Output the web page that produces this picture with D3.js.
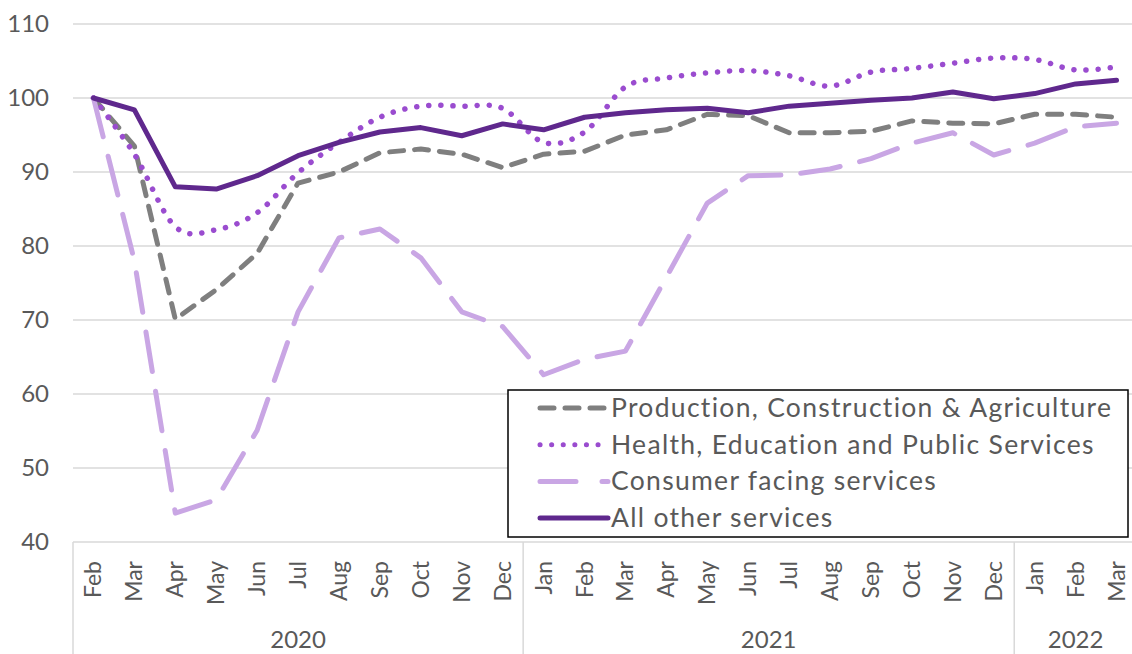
<!DOCTYPE html>
<html>
<head>
<meta charset="utf-8">
<script src="https://cdn.jsdelivr.net/npm/d3@7"></script>
<style>
  body { margin: 0; background: #fff; }
  text { font-family: Lato, "Open Sans", sans-serif; fill: #595959; }
</style>
</head>
<body>
<div class="chart"></div>
<script>
var svgWidth = 1132;
var svgHeight = 654;

var margin = { top: 24, right: -5, bottom: 112, left: 73 };

var width = svgWidth - margin.left - margin.right;
var height = svgHeight - margin.top - margin.bottom;

// month labels, Feb 2020 .. Mar 2022
var months = ["Feb", "Mar", "Apr", "May", "Jun", "Jul", "Aug", "Sep", "Oct", "Nov", "Dec",
  "Jan", "Feb", "Mar", "Apr", "May", "Jun", "Jul", "Aug", "Sep", "Oct", "Nov", "Dec",
  "Jan", "Feb", "Mar"];
var yearLabels = ["2020", "2021", "2022"];
var yearCounts = [11, 12, 3];
var yTicks = [40, 50, 60, 70, 80, 90, 100, 110];

var seriesNames = ["Production, Construction & Agriculture", "Health, Education and Public Services",
  "Consumer facing services", "All other services"];

var production = [100, 93.5, 70.1, 74.1, 79.0, 88.5, 90.0, 92.6, 93.1, 92.4, 90.6, 92.4, 92.8,
  95.0, 95.7, 97.8, 97.6, 95.3, 95.3, 95.5, 96.9, 96.6, 96.5, 97.8, 97.8, 97.4];
var health = [100, 92.4, 82.6, 82.2, 84.5, 89.9, 94.0, 97.4, 98.9, 98.9, 98.6, 94.0, 95.4,
  101.5, 102.7, 103.4, 103.7, 103.0, 101.6, 103.5, 104.0, 104.7, 105.4, 105.2, 103.8, 104.2];
var consumer = [100, 78.0, 43.9, 45.7, 55.1, 71.1, 81.1, 82.3, 78.4, 71.1, 69.1, 62.6, 64.7,
  65.8, 75.8, 85.8, 89.5, 89.6, 90.4, 91.8, 93.9, 95.3, 92.3, 93.9, 96.1, 96.6];
var otherServices = [100, 98.4, 88.0, 87.7, 89.5, 92.2, 94.0, 95.4, 96.0, 94.9, 96.5, 95.7, 97.4,
  98.0, 98.4, 98.6, 98.0, 98.9, 99.3, 99.7, 100.0, 100.8, 99.9, 100.6, 101.9, 102.4];

var seriesStyles = [
  { color: "#7f7f7f", dash: "14 11", curve: d3.curveLinear },
  { color: "#9a4ccf", dash: "0.1 12", curve: d3.curveCardinal.tension(0) },
  { color: "#c9a6e4", dash: "40 20", curve: d3.curveLinear },
  { color: "#5f288d", dash: null, curve: d3.curveLinear }
];
var seriesValues = [production, health, consumer, otherServices];

var svg = d3.select(".chart")
  .append("svg")
  .attr("width", svgWidth)
  .attr("height", svgHeight);

var chart = svg.append("g")
  .attr("transform", "translate(" + margin.left + "," + margin.top + ")");

var xScale = d3.scalePoint()
  .domain(d3.range(months.length))
  .range([0, width])
  .padding(0.5);
var step = xScale.step();

var yScale = d3.scaleLinear()
  .domain([40, 110])
  .range([height, 0]);

// gridlines
chart.append("g")
  .selectAll("line")
  .data(yTicks)
  .enter().append("line")
    .attr("x1", 0)
    .attr("x2", width)
    .attr("y1", function(d) { return yScale(d); })
    .attr("y2", function(d) { return yScale(d); })
    .attr("stroke", "#d9d9d9")
    .attr("stroke-width", 1.5);

// y axis labels
var leftAxis = d3.axisLeft(yScale).tickValues(yTicks).tickSize(0).tickPadding(24);
var yAxisG = chart.append("g").call(leftAxis);
yAxisG.select(".domain").remove();
yAxisG.selectAll("text")
  .style("font-size", "24px")
  .style("font-family", "Lato, sans-serif")
  .attr("fill", "#595959");

// category axis: group separators
var boundaries = [0];
yearCounts.forEach(function(c, i) { boundaries.push(boundaries[i] + c); });

chart.append("g")
  .selectAll("line")
  .data(boundaries.slice(0, 3))
  .enter().append("line")
    .attr("x1", function(d) { return d * step; })
    .attr("x2", function(d) { return d * step; })
    .attr("y1", height)
    .attr("y2", svgHeight)
    .attr("stroke", "#d9d9d9")
    .attr("stroke-width", 1.5);

// month labels
chart.append("g")
  .selectAll("text")
  .data(months)
  .enter().append("text")
    .attr("transform", function(d, i) {
      return "translate(" + (xScale(i) + 8) + "," + (height + 19) + ") rotate(-90)";
    })
    .attr("text-anchor", "end")
    .style("font-size", "23px")
    .text(function(d) { return d; });

// year labels
chart.append("g")
  .selectAll("text")
  .data(yearLabels)
  .enter().append("text")
    .attr("x", function(d, i) { return (boundaries[i] + boundaries[i + 1]) / 2 * step; })
    .attr("y", height + 106)
    .attr("text-anchor", "middle")
    .style("font-size", "24px")
    .text(function(d) { return d; });

// lines
seriesValues.forEach(function(values, s) {
  var line = d3.line()
    .x(function(d, i) { return xScale(i); })
    .y(function(d) { return yScale(d); })
    .curve(seriesStyles[s].curve);

  chart.append("path")
    .datum(values)
    .attr("d", line)
    .attr("fill", "none")
    .attr("stroke", seriesStyles[s].color)
    .attr("stroke-width", s == 1 ? 5.5 : 5)
    .attr("stroke-linecap", "round")
    .attr("stroke-linejoin", "round")
    .attr("stroke-dasharray", seriesStyles[s].dash);
});

// legend
var legend = svg.append("g")
  .attr("transform", "translate(508, 390)");

legend.append("rect")
  .attr("width", 620)
  .attr("height", 147)
  .attr("fill", "#fff")
  .attr("stroke", "#000")
  .attr("stroke-width", 1.5);

var items = legend.selectAll(".item")
  .data(seriesNames)
  .enter().append("g")
    .attr("class", "item")
    .attr("transform", function(d, i) { return "translate(0," + (18 + i * 36.7) + ")"; });

items.append("line")
  .attr("x1", 32)
  .attr("x2", function(d, i) { return i == 1 ? 98 : 100; })
  .attr("stroke", function(d, i) { return seriesStyles[i].color; })
  .attr("stroke-width", 5)
  .attr("stroke-linecap", "round")
  .attr("stroke-dasharray", function(d, i) {
    return i == 0 ? "14 11" : i == 1 ? "0.1 11.5" : i == 2 ? "36 26" : null;
  });

items.append("text")
  .attr("x", 103)
  .attr("y", 9)
  .style("font-size", "26.5px")
  .style("letter-spacing", "1.3px")
  .text(function(d) { return d; });
</script>
</body>
</html>
